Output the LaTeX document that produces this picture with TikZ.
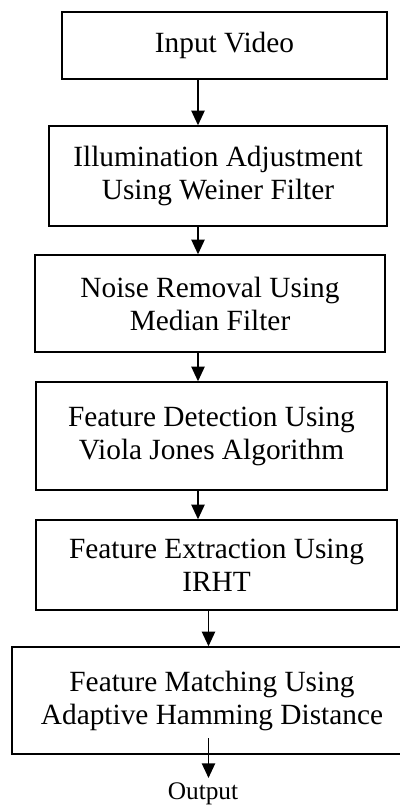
\documentclass[tikz,border=0pt]{standalone}
\usepackage{fontspec}
\setmainfont{Liberation Serif}
\usetikzlibrary{arrows.meta, positioning}

\begin{document}
\begin{tikzpicture}[
    x=0.75pt, y=-0.75pt,
    box/.style={draw, line width=1.1pt, align=center, inner sep=2pt, font=\fontsize{22pt}{24.75pt}\selectfont},
    arr/.style={-{Triangle[length=11pt, width=10pt]}, line width=1.1pt}
]
\useasboundingbox (0,0) rectangle (399,805);
\node[box, minimum width=243.75pt, minimum height=50.25pt] (input) at (224.5,45.5) {Input Video};
\node[box, minimum width=253.5pt, minimum height=75pt] (illum) at (218,176) {Illumination Adjustment\\Using Weiner Filter};
\node[box, minimum width=262.5pt, minimum height=72.75pt] (noise) at (210,303.5) {Noise Removal Using\\Median Filter};
\node[box, minimum width=263.25pt, minimum height=81pt] (detect) at (211.5,436) {Feature Detection Using\\Viola Jones Algorithm};
\node[box, minimum width=270.75pt, minimum height=67.5pt] (extract) at (216.5,565) {Feature Extraction Using\\IRHT};
\node[box, minimum width=300pt, minimum height=80.25pt] (match) at (212,700.5) {Feature Matching Using\\Adaptive Hamming Distance};
\node[anchor=base, inner sep=3pt, font=\fontsize{19pt}{22pt}\selectfont] (out) at (203,799) {Output};
\coordinate (xa) at (198,0);
\coordinate (xb) at (208.5,0);
\coordinate (mstart) at (208.5,738);
\foreach \x/\y in {input/illum, illum/noise, noise/detect, detect/extract} \draw[arr] (\x.south -| xa) -- (\y.north -| xa);
\draw[arr] (extract.south -| xb) -- (match.north -| xb);
\draw[arr] (mstart) -- (out.north -| xb);
\end{tikzpicture}
\end{document}
